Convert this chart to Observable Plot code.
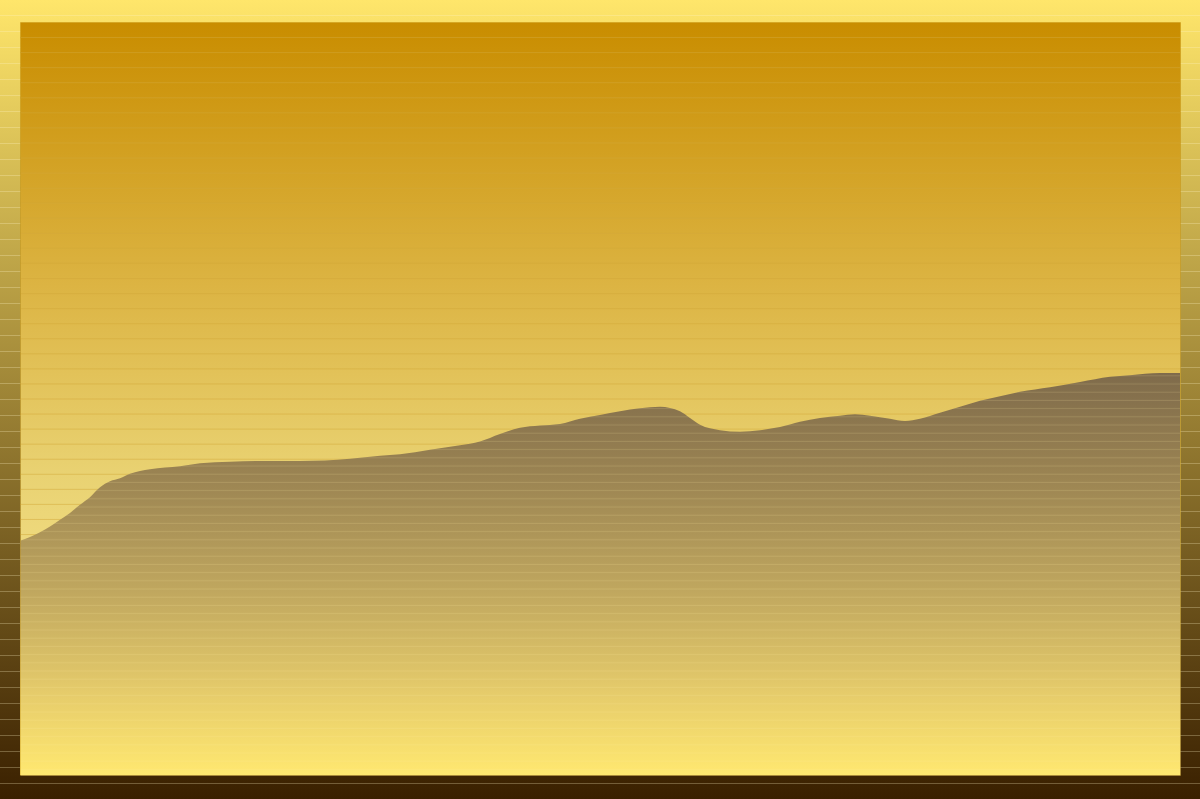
<!DOCTYPE html>
<html>
<head>
<meta charset="utf-8">
<script src="https://cdn.jsdelivr.net/npm/d3@7"></script>
<script src="https://cdn.jsdelivr.net/npm/@observablehq/plot@0.6"></script>
<style>
  html, body { margin: 0; padding: 0; background: #3a2000; }
  #chart svg { display: block; }
</style>
</head>
<body>
<div id="chart"></div>
<script>
// Data (x position along the series, value on a 0–100 scale)
const steps = [0, 10, 30, 40, 50, 60, 70, 80, 90, 100, 110, 130, 160, 180, 210, 240, 280, 330, 360, 380,
  410, 440, 460, 480, 500, 520, 540, 560, 580, 600, 620, 640, 660, 670, 680, 700, 720, 740, 760, 780,
  800, 820, 835, 850, 870, 885, 900, 920, 940, 960, 980, 1000, 1030, 1060, 1090, 1110, 1140, 1160];
const values = [31.1, 31.6, 33.0, 33.9, 34.8, 35.9, 36.9, 38.2, 39.0, 39.4, 40.0, 40.6, 41.0, 41.4, 41.6, 41.7, 41.7, 42.0, 42.4, 42.6,
  43.2, 43.8, 44.3, 45.3, 46.1, 46.4, 46.6, 47.3, 47.8, 48.3, 48.7, 48.9, 48.3, 47.4, 46.5, 45.8, 45.6, 45.8, 46.2, 46.9,
  47.4, 47.7, 47.9, 47.7, 47.3, 47.0, 47.3, 48.1, 48.9, 49.7, 50.3, 50.9, 51.5, 52.2, 52.9, 53.1, 53.4, 53.4];
const gridTicks = d3.range(2, 100, 2);

const data = steps.map((s, i) => ({step: s, value: values[i]}));

const svg = Plot.plot({
  width: 1200,
  height: 799,
  marginLeft: 20,
  marginRight: 20,
  marginTop: 22,
  marginBottom: 24,
  style: {
    background: "repeating-linear-gradient(to bottom, rgba(0,0,0,0) 0px, rgba(0,0,0,0) 15px, rgba(255,244,200,0.28) 15px, rgba(255,244,200,0.28) 16px), linear-gradient(to bottom, #ffe66b 0%, #3a2000 100%)"
  },
  x: {domain: [0, 1160], axis: null},
  y: {domain: [0, 100], axis: null},
  marks: [
    Plot.frame({fill: "url(#bgGrad)", stroke: "none"}),
    Plot.ruleY(gridTicks, {stroke: "#d4aa3a", strokeOpacity: 0.5, strokeWidth: 1}),
    Plot.areaY(data, {x: "step", y: "value", fill: "url(#areaGrad)", curve: "monotone-x"}),
    Plot.areaY(data, {x: "step", y: "value", fill: "url(#areaStripes)", curve: "monotone-x"}),
    Plot.frame({stroke: "#b88400", strokeOpacity: 0.3, strokeWidth: 1})
  ]
});

const defs = d3.select(svg).insert("defs", ":first-child");
const bg = defs.append("linearGradient").attr("id", "bgGrad").attr("x1", 0).attr("y1", 0).attr("x2", 0).attr("y2", 1);
[[0, "#c98d00"], [0.35, "#dcb443"], [0.6, "#e9d272"], [1, "#fff0a0"]].forEach(([o, c]) =>
  bg.append("stop").attr("offset", o).attr("stop-color", c));
const ag = defs.append("linearGradient").attr("id", "areaGrad").attr("x1", 0).attr("y1", 0).attr("x2", 0).attr("y2", 1);
[[0, "#7f6b4b"], [0.25, "#9a8352"], [0.55, "#c1a85f"], [0.8, "#e6cc6b"], [1, "#ffe870"]].forEach(([o, c]) =>
  ag.append("stop").attr("offset", o).attr("stop-color", c));
const pat = defs.append("pattern").attr("id", "areaStripes").attr("patternUnits", "userSpaceOnUse")
  .attr("x", 0).attr("y", 0).attr("width", 1200).attr("height", 8.2);
pat.append("rect").attr("x", 0).attr("y", 6.3).attr("width", 1200).attr("height", 1)
  .attr("fill", "#fff0a0").attr("fill-opacity", 0.16);

document.getElementById("chart").append(svg);
</script>
</body>
</html>
